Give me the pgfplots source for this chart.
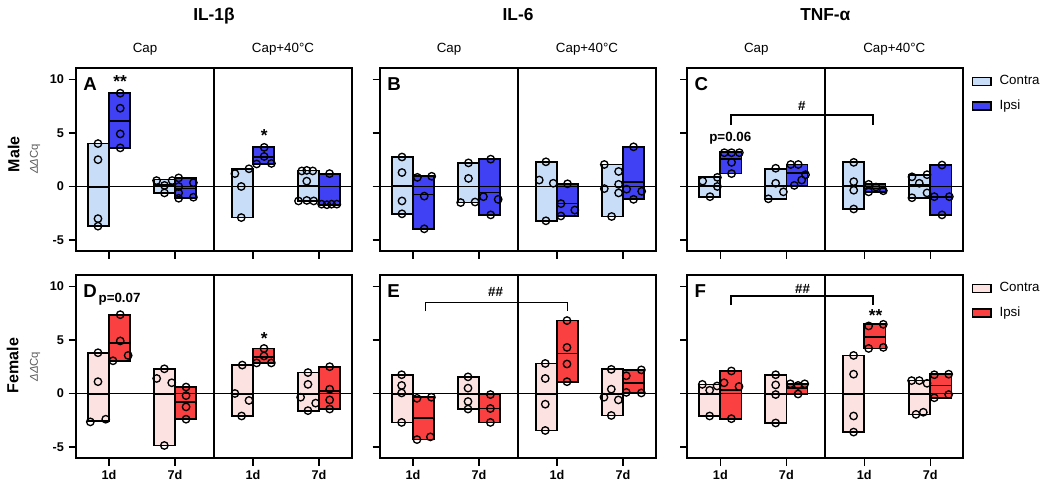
\documentclass[border=0pt]{standalone}
\usepackage{fontspec}
\setmainfont{Liberation Sans}
\usepackage{pgfplots}
\pgfplotsset{compat=1.18}
\usepgfplotslibrary{statistics}
\definecolor{mC}{RGB}{200,222,248}
\definecolor{mI}{RGB}{64,64,245}
\definecolor{fC}{RGB}{253,226,226}
\definecolor{fI}{RGB}{250,64,64}
\definecolor{lab}{RGB}{90,90,90}
% floating bar: center, low, mean line, high, colour
\newcommand{\fb}[5]{\addplot[draw=black, fill=#5, line width=1.3pt, solid, mark=none,
  boxplot/draw direction=y,
  boxplot prepared={draw position=#1, lower whisker=#2, lower quartile=#2, median=#3,
  upper quartile=#4, upper whisker=#4, box extend=0.32, whisker extend=0}] coordinates {};}
\newcommand{\pts}[1]{\addplot[only marks, mark=o, mark size=2.8pt, mark options={black, line width=1pt, solid}] coordinates {#1};}
\newcommand{\guides}{\draw[line width=1.4pt] (axis cs:0.5,0) -- (axis cs:4.68,0);
  \draw[line width=1.3pt] (axis cs:2.59,-6.05) -- (axis cs:2.59,11.05);}
\tikzset{
 letter/.style={anchor=north west, inner sep=0pt, font=\fontsize{14}{15}\selectfont\bfseries},
 ttl/.style={anchor=base, inner sep=0pt, font=\fontsize{13}{14}\selectfont\bfseries},
 sub/.style={anchor=base, inner sep=0pt, font=\fontsize{10}{12}\selectfont},
 ast/.style={anchor=north, inner sep=0pt, font=\fontsize{13}{14}\selectfont\bfseries},
 hsh/.style={anchor=base, inner sep=0pt, font=\fontsize{10}{12}\selectfont\bfseries},
 pv/.style={anchor=base, inner sep=0pt, font=\fontsize{10}{12}\selectfont\bfseries},
}
\pgfplotsset{
 panel/.style={anchor=north west, scale only axis, width=207pt, height=137.5pt,
  xmin=0.5, xmax=4.68, ymin=-6.05, ymax=11.05,
  xtick={1,2,3.18,4.18}, ytick={-5,0,5,10},
  xticklabels={}, yticklabels={},
  xtick pos=bottom, ytick pos=left, tick align=outside,
  major tick length=5.5pt,
  every tick/.style={black, line width=1.1pt},
  axis line style={line width=1.4pt},
  ticklabel style={font=\fontsize{9.5}{10}\selectfont\bfseries},
  clip=false},
 lgd/.style={legend style={at={(axis description cs:1,1)}, anchor=north west, xshift=6pt, yshift=-4pt,
   draw=none, fill=none, inner sep=0pt, row sep=7pt,
   font=\fontsize{10}{12}\selectfont, nodes={inner sep=1.5pt}},
   legend cell align=left,
   legend image code/.code={\draw[##1, line width=1pt] (0pt,-3pt) rectangle (14pt,3pt);
     \path[draw=none, fill=none] (0pt,0pt) rectangle (19pt,0.1pt);}},
}
\begin{document}
\begin{tikzpicture}
\useasboundingbox (0,0) rectangle (787.5pt,-365.25pt);
% ---------------- A : IL-1b male
\begin{axis}[panel, at={(57pt,-51pt)}, yticklabels={-5,0,5,10}]
\fb{0.84}{-3.7}{-0.05}{4.0}{mC}
\fb{1.16}{3.6}{6.1}{8.7}{mI}
\fb{1.84}{-0.6}{0.15}{0.65}{mC}
\fb{2.16}{-1.1}{-0.2}{0.8}{mI}
\fb{3.02}{-2.9}{0.0}{1.65}{mC}
\fb{3.34}{2.1}{2.75}{3.65}{mI}
\fb{4.02}{-1.35}{0.05}{1.5}{mC}
\fb{4.34}{-1.7}{-1.7}{1.15}{mI}
\guides
\pts{(0.833,4.0)(0.833,2.5)(0.833,-3.0)(0.833,-3.7)}
\pts{(1.17,8.7)(1.17,7.3)(1.17,4.9)(1.17,3.6)}
\pts{(1.72,0.55)(1.84,-0.6)(1.956,0.55)(1.84,0.1)}
\pts{(2.055,0.8)(2.055,0.0)(2.055,-0.6)(2.055,-1.1)(2.278,0.35)(2.278,-1.0)}
\pts{(2.907,1.2)(3.003,0.0)(3.003,-2.9)(3.12,1.65)}
\pts{(3.236,2.1)(3.35,3.65)(3.35,2.8)(3.46,2.15)}
\pts{(3.92,1.45)(3.995,1.5)(4.086,1.45)(3.995,0.5)(3.87,-1.35)(3.995,-1.3)(4.1,-1.35)}
\pts{(4.34,1.2)(4.22,-1.65)(4.30,-1.7)(4.37,-1.65)(4.45,-1.65)}
\node[letter] at ([xshift=5.25pt,yshift=-6.75pt]axis description cs:0,1) {A};
\node[ast] at (axis cs:1.17,10.4) {**};
\node[ast] at (axis cs:3.35,5.3) {*};
\node[ttl] at (axis cs:2.59,15.47) {IL-1β};
\node[sub] at (axis cs:1.545,12.48) {Cap};
\node[sub] at (axis cs:3.635,12.48) {Cap+40°C};
\node[rotate=90, inner sep=0pt, font=\fontsize{12}{13}\selectfont\bfseries] at (axis cs:-0.446,3.0) {Male};
\node[rotate=90, inner sep=0pt, text=lab, font=\fontsize{8.5}{9}\selectfont] at (axis cs:-0.12,2.55) {\textit{ΔΔ}Cq};
\end{axis}
% ---------------- B : IL-6 male
\begin{axis}[panel, at={(285pt,-51pt)}]
\fb{0.84}{-2.55}{0.04}{2.75}{mC}
\fb{1.16}{-3.95}{-0.76}{0.95}{mI}
\fb{1.84}{-1.5}{0.0}{2.2}{mC}
\fb{2.16}{-2.65}{-0.56}{2.55}{mI}
\fb{3.02}{-3.2}{0.0}{2.3}{mC}
\fb{3.34}{-2.75}{-1.58}{0.25}{mI}
\fb{4.02}{-2.8}{0.01}{2.05}{mC}
\fb{4.34}{-1.2}{0.45}{3.7}{mI}
\guides
\pts{(0.833,2.75)(0.833,1.3)(0.833,-1.35)(0.833,-2.55)}
\pts{(1.066,0.85)(1.283,0.95)(1.17,-0.9)(1.17,-3.95)}
\pts{(1.84,2.2)(1.84,0.75)(1.722,-1.5)(1.94,-1.45)}
\pts{(2.177,2.55)(2.066,-0.95)(2.29,-1.2)(2.177,-2.65)}
\pts{(3.013,2.3)(2.912,0.6)(3.124,0.3)(3.013,-3.2)}
\pts{(3.34,0.25)(3.24,-1.6)(3.24,-2.75)(3.45,-2.2)}
\pts{(3.897,2.05)(3.897,-0.2)(4.008,-2.8)(4.114,1.4)(4.114,0.2)(4.114,-0.6)}
\pts{(4.34,3.7)(4.235,-0.25)(4.34,-1.2)(4.463,-0.45)}
\node[letter] at ([xshift=5.25pt,yshift=-6.75pt]axis description cs:0,1) {B};
\node[ttl] at (axis cs:2.59,15.47) {IL-6};
\node[sub] at (axis cs:1.545,12.48) {Cap};
\node[sub] at (axis cs:3.635,12.48) {Cap+40°C};
\end{axis}
% ---------------- C : TNF-a male
\begin{axis}[panel, lgd, at={(515.5pt,-51pt)}]
\addlegendimage{fill=mC, draw=black}
\addlegendentry{Contra}
\addlegendimage{fill=mI, draw=black}
\addlegendentry{Ipsi}
\fb{0.84}{-0.95}{0.1}{0.85}{mC}
\fb{1.16}{1.2}{2.58}{3.2}{mI}
\fb{1.84}{-1.15}{0.06}{1.65}{mC}
\fb{2.16}{0.1}{1.25}{2.05}{mI}
\fb{3.02}{-2.1}{0.06}{2.25}{mC}
\fb{3.34}{-0.5}{-0.19}{0.2}{mI}
\fb{4.02}{-1.05}{0.13}{1.1}{mC}
\fb{4.34}{-2.65}{-0.95}{2.0}{mI}
\guides
\pts{(0.732,0.5)(0.955,0.85)(0.955,0.0)(0.843,-0.95)}
\pts{(1.06,3.15)(1.17,3.15)(1.288,3.15)(1.17,2.25)(1.17,1.2)}
\pts{(1.727,-1.15)(1.838,1.7)(1.838,0.3)(1.955,-0.5)}
\pts{(2.066,2.05)(2.18,2.05)(2.12,0.1)(2.232,0.6)(2.29,1.1)}
\pts{(3.02,2.25)(3.02,0.45)(3.02,-0.35)(3.02,-2.1)}
\pts{(3.246,0.2)(3.246,-0.5)(3.357,-0.05)(3.468,-0.4)}
\pts{(3.902,0.9)(3.902,-1.05)(4.013,0.3)(4.13,1.1)(4.13,-0.6)}
\pts{(4.357,2.0)(4.24,-0.95)(4.468,-0.95)(4.357,-2.65)}
\node[letter] at ([xshift=5.25pt,yshift=-6.75pt]axis description cs:0,1) {C};
\node[pv] at (axis cs:1.15,4.17) {p=0.06};
\draw[line width=1pt] (axis cs:1.16,5.72) -- (axis cs:1.16,6.66) -- (axis cs:3.31,6.66) -- (axis cs:3.31,5.72);
\node[hsh] at (axis cs:2.235,7.04) {\#};
\node[ttl] at (axis cs:2.59,15.47) {TNF-α};
\node[sub] at (axis cs:1.545,12.48) {Cap};
\node[sub] at (axis cs:3.635,12.48) {Cap+40°C};
\end{axis}
% ---------------- D : IL-1b female
\begin{axis}[panel, at={(57pt,-206.25pt)}, yticklabels={-5,0,5,10}, xticklabels={1d,7d,1d,7d}]
\fb{0.84}{-2.55}{-0.04}{3.8}{fC}
\fb{1.16}{3.05}{4.7}{7.35}{fI}
\fb{1.84}{-4.85}{-0.04}{2.3}{fC}
\fb{2.16}{-2.4}{-0.81}{0.6}{fI}
\fb{3.02}{-2.1}{-0.03}{2.65}{fC}
\fb{3.34}{2.85}{3.4}{4.2}{fI}
\fb{4.02}{-1.6}{-0.03}{1.95}{fC}
\fb{4.34}{-1.45}{0.21}{2.5}{fI}
\guides
\pts{(0.717,-2.65)(0.833,1.1)(0.833,3.8)(0.95,-2.4)}
\pts{(1.06,3.05)(1.17,7.35)(1.17,4.9)(1.29,3.55)}
\pts{(1.722,1.4)(1.838,2.3)(1.838,-4.85)(1.95,1.0)}
\pts{(2.167,0.6)(2.167,-0.2)(2.167,-1.25)(2.167,-2.4)}
\pts{(2.907,0.0)(3.008,-2.1)(3.018,2.65)(3.12,-0.65)}
\pts{(3.236,2.85)(3.347,4.2)(3.347,3.5)(3.458,2.85)}
\pts{(3.902,-0.35)(4.013,1.95)(4.013,0.85)(4.013,-1.6)(4.13,-0.9)}
\pts{(4.342,2.5)(4.342,0.4)(4.342,-0.6)(4.342,-1.45)}
\node[letter] at ([xshift=5.25pt,yshift=-6.75pt]axis description cs:0,1) {D};
\node[pv] at (axis cs:1.16,8.45) {p=0.07};
\node[ast] at (axis cs:3.35,5.75) {*};
\node[rotate=90, inner sep=0pt, font=\fontsize{12}{13}\selectfont\bfseries] at (axis cs:-0.46,2.6) {Female};
\node[rotate=90, inner sep=0pt, text=lab, font=\fontsize{8.5}{9}\selectfont] at (axis cs:-0.12,2.5) {\textit{ΔΔ}Cq};
\end{axis}
% ---------------- E : IL-6 female
\begin{axis}[panel, at={(285pt,-206.25pt)}, xticklabels={1d,7d,1d,7d}]
\fb{0.84}{-2.7}{-0.04}{1.75}{fC}
\fb{1.16}{-4.3}{-2.3}{-0.35}{fI}
\fb{1.84}{-1.45}{-0.04}{1.55}{fC}
\fb{2.16}{-2.7}{-1.4}{-0.1}{fI}
\fb{3.02}{-3.45}{-0.06}{2.8}{fC}
\fb{3.34}{1.1}{3.74}{6.8}{fI}
\fb{4.02}{-2.05}{-0.07}{2.25}{fC}
\fb{4.34}{0.05}{1.0}{2.2}{fI}
\guides
\pts{(0.828,1.75)(0.828,0.75)(0.828,0.05)(0.828,-2.7)}
\pts{(1.06,-0.45)(1.278,-0.35)(1.06,-4.3)(1.263,-4.05)}
\pts{(1.833,1.55)(1.833,0.5)(1.833,-0.75)(1.833,-1.45)}
\pts{(2.172,-0.1)(2.172,-1.4)(2.172,-2.7)}
\pts{(3.003,2.8)(3.003,1.4)(3.003,-1.0)(3.003,-3.45)}
\pts{(3.332,6.8)(3.332,4.3)(3.332,2.75)(3.332,1.1)}
\pts{(4.003,2.25)(4.003,0.4)(3.892,-0.35)(4.11,-0.6)(4.003,-2.05)}
\pts{(4.23,1.65)(4.458,2.2)(4.23,0.1)(4.458,0.05)}
\node[letter] at ([xshift=5.25pt,yshift=-6.75pt]axis description cs:0,1) {E};
\draw[line width=1pt] (axis cs:1.19,7.68) -- (axis cs:1.19,8.51) -- (axis cs:3.34,8.51) -- (axis cs:3.34,7.68);
\node[hsh] at (axis cs:2.25,9.07) {\#\#};
\end{axis}
% ---------------- F : TNF-a female
\begin{axis}[panel, lgd, at={(515.5pt,-206.25pt)}, xticklabels={1d,7d,1d,7d}]
\addlegendimage{fill=fC, draw=black}
\addlegendentry{Contra}
\addlegendimage{fill=fI, draw=black}
\addlegendentry{Ipsi}
\fb{0.84}{-2.1}{-0.06}{0.85}{fC}
\fb{1.16}{-2.35}{0.35}{2.1}{fI}
\fb{1.84}{-2.75}{-0.07}{1.75}{fC}
\fb{2.16}{-0.05}{0.5}{0.9}{fI}
\fb{3.02}{-3.6}{-0.09}{3.55}{fC}
\fb{3.34}{4.2}{5.3}{6.45}{fI}
\fb{4.02}{-1.95}{-0.07}{1.2}{fC}
\fb{4.34}{-0.4}{0.75}{1.8}{fI}
\guides
\pts{(0.727,0.85)(0.838,0.3)(0.838,-2.1)(0.95,0.7)}
\pts{(1.056,1.0)(1.167,2.1)(1.283,0.65)(1.167,-2.35)}
\pts{(1.838,1.75)(1.838,0.8)(1.838,-0.1)(1.838,-2.75)}
\pts{(2.06,0.9)(2.177,0.75)(2.278,0.9)(2.177,-0.05)}
\pts{(3.018,3.55)(3.018,1.8)(3.018,-2.1)(3.018,-3.6)}
\pts{(3.246,6.3)(3.468,6.45)(3.246,4.2)(3.468,4.3)}
\pts{(3.897,1.2)(4.013,1.2)(4.13,0.95)(3.963,-1.95)(4.074,-1.75)}
\pts{(4.24,1.75)(4.458,1.8)(4.24,-0.4)(4.458,-0.1)}
\node[letter] at ([xshift=5.25pt,yshift=-6.75pt]axis description cs:0,1) {F};
\draw[line width=1pt] (axis cs:1.16,8.24) -- (axis cs:1.16,9.1) -- (axis cs:3.31,9.1) -- (axis cs:3.31,8.24);
\node[hsh] at (axis cs:2.245,9.32) {\#\#};
\node[ast] at (axis cs:3.35,7.86) {**};
\end{axis}
\end{tikzpicture}
\end{document}
